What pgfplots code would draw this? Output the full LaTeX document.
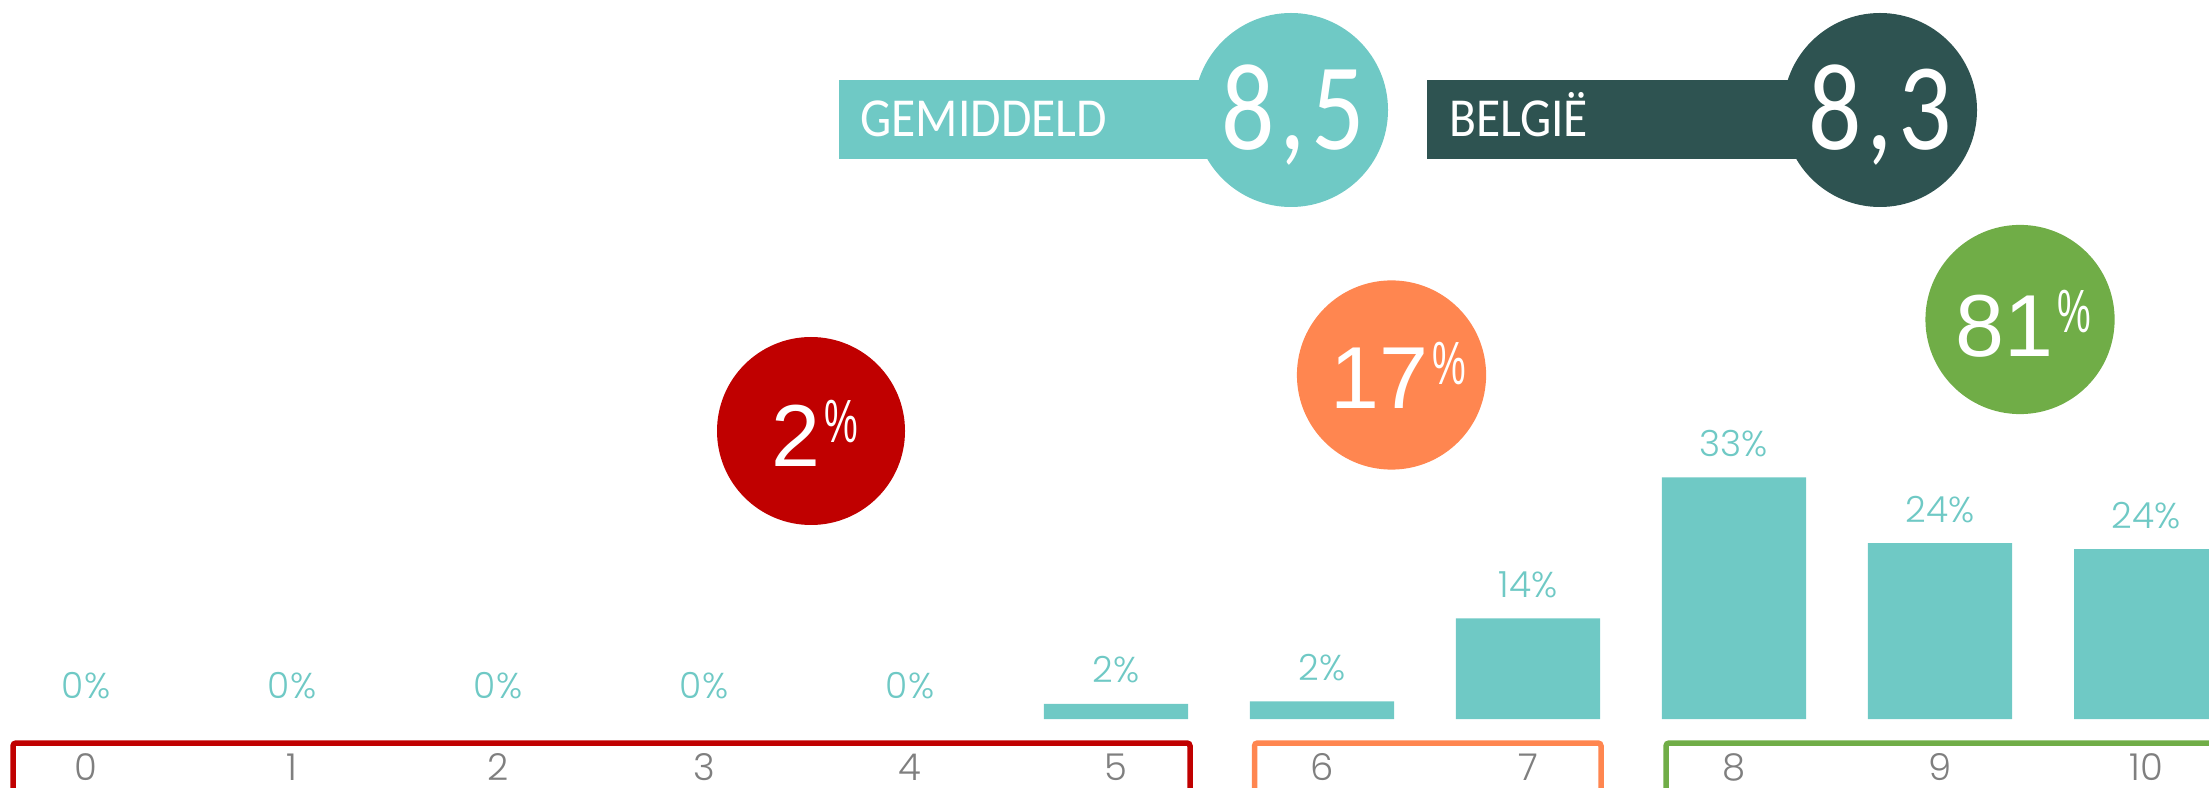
\documentclass[border=0pt]{standalone}
\usepackage{pgfplots}
\pgfplotsset{compat=1.18}
\usepackage{fontspec}
\setmainfont{Liberation Sans}
\newfontfamily\arialf{Liberation Sans}
\newfontfamily\calib{Carlito}
\newfontfamily\labfont{Poppins Light}
\definecolor{tealc}{HTML}{6FC9C5}
\definecolor{darkc}{HTML}{2E5351}
\definecolor{redc}{HTML}{C00000}
\definecolor{orangec}{HTML}{FF8650}
\definecolor{greenc}{HTML}{70AD47}
\definecolor{tickgrey}{HTML}{7F7F7F}
\newcommand\pct[1]{{\arialf\fontsize{44}{44}\selectfont #1}\hspace{2pt}\raisebox{12pt}{\arialf\fontsize{30.5}{30.5}\selectfont\scalebox{0.62}[1]{\%}}}
\newcommand\bignum[1]{\calib\fontsize{62}{62}\selectfont\scalebox{0.85}[1]{#1}}
\pgfplotstableread{
x y lab
0 0 0
1 0 0
2 0 0
3 0 0
4 0 0
5 2.05 2
6 2.4 2
7 13.75 14
8 33 33
9 24.0 24
10 23.2 24
}\datatab
\begin{document}
\begin{tikzpicture}[x=0.5pt,y=0.5pt]
\useasboundingbox (0,0) rectangle (2209,787);
\clip (0,0) rectangle (2209,787);
% banners
\fill[tealc] (839,628) rectangle (1291,706.5);
\fill[tealc] (1291,677) circle[radius=48.5pt];
\fill[darkc] (1427,628) rectangle (1880,706.5);
\fill[darkc] (1880,677) circle[radius=48.5pt];
\node[anchor=base west, inner sep=0pt, text=white, font=\calib\fontsize{27.5}{27.5}\selectfont] at (860,650.3) {\scalebox{0.9}[1]{GEMIDDELD}};
\node[anchor=base west, inner sep=0pt, text=white, font=\calib\fontsize{27.5}{27.5}\selectfont] at (1449,650.3) {\scalebox{0.9}[1]{BELGIË}};
\node[anchor=base, inner sep=0pt, text=white] at (1293,637) {\bignum{8\kern0.05em,\kern0.05em5}};
\node[anchor=base, inner sep=0pt, text=white] at (1880,637) {\bignum{8\kern0.05em,\kern0.05em3}};
% group circles
\fill[redc] (811,356) circle[radius=47pt];
\fill[orangec] (1391.5,412) circle[radius=47.3pt];
\fill[greenc] (2020,467.5) circle[radius=47.3pt];
\node[anchor=base, inner sep=0pt, text=white] at (815,320.3) {\pct{2}};
\node[anchor=base, inner sep=0pt, text=white] at (1398,378) {\pct{17}};
\node[anchor=base, inner sep=0pt, text=white] at (2023.5,430) {\pct{81}};
% category boxes
\draw[redc, line width=2.75pt, rounded corners=1.5pt] (13,-33) rectangle (1190,44);
\draw[orangec, line width=2.75pt, rounded corners=1.5pt] (1254.5,-33) rectangle (1601,44);
\draw[greenc, line width=2.75pt, rounded corners=1.5pt] (1666,-33) rectangle (2300,44);
\begin{axis}[at={(0,0)}, anchor=south west, scale only axis,
  width=1104.5pt, height=393.5pt,
  xmin=-0.41748, xmax=10.30583, ymin=-9.284, ymax=98.17,
  axis line style={draw=none}, tick style={draw=none},
  ytick=\empty, xtick={0,1,2,3,4,5,6,7,8,9,10},
  xticklabels={0,1,2,3,4,5,6,7,8,9,10},
  xticklabel style={anchor=base, yshift=3.5pt, inner sep=0pt, text=tickgrey, font=\labfont\fontsize{18.5}{18.5}\selectfont},
  clip=false]
% bars (zero-height bars are not drawn)
\addplot[ybar, bar width=72pt, fill=tealc, draw=none,
  y filter/.expression={y==0 ? nan : y}]
  table[x=x, y=y] {\datatab};
% value labels
\addplot[draw=none, mark=none,
  point meta=explicit symbolic,
  nodes near coords={\pgfplotspointmeta\%},
  nodes near coords style={anchor=base, yshift=10.5pt, inner sep=0pt, text=tealc, font=\labfont\fontsize{18}{18}\selectfont}]
  table[x=x, y=y, meta=lab] {\datatab};
\end{axis}
\end{tikzpicture}
\end{document}
